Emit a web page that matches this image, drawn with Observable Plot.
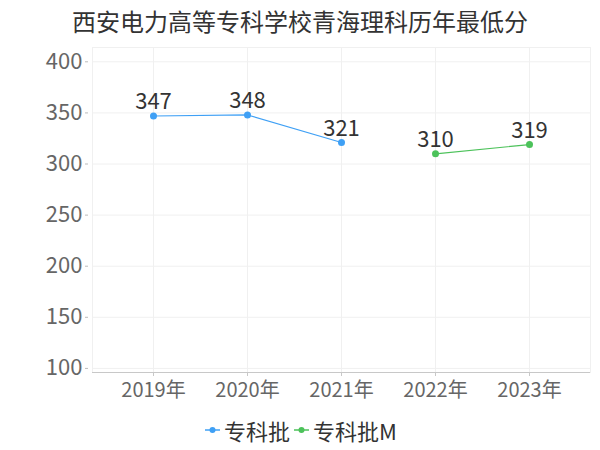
<!DOCTYPE html>
<html>
<head>
<meta charset="utf-8">
<script src="https://cdn.jsdelivr.net/npm/d3@7"></script>
<script src="https://cdn.jsdelivr.net/npm/@observablehq/plot@0.6"></script>
<style>
  body { margin: 0; background: #fff; font-family: "Noto Sans CJK SC", "Noto Sans", sans-serif; }
  #wrap { width: 600px; height: 450px; position: relative; }
  #title { height: 40px; line-height: 42px; font-size: 24px; color: #333; padding-left: 72px; white-space: nowrap; }
  #legend { height: 40px; display: flex; justify-content: center; align-items: center; font-size: 22px; color: #333; padding-left: 2px; }
  .item { display: flex; align-items: center; margin: 0 2px; }
  .item svg { margin-right: 4px; }
</style>
</head>
<body>
<div id="wrap">
  <div id="title">西安电力高等专科学校青海理科历年最低分</div>
  <div id="chart"></div>
  <div id="legend"></div>
</div>
<script>
const years = ["2019年", "2020年", "2021年", "2022年", "2023年"];
const batches = ["专科批", "专科批", "专科批", "专科批M", "专科批M"];
const scores = [347, 348, 321, 310, 319];
const seriesNames = ["专科批", "专科批M"];
const seriesColors = ["#3fa0f5", "#4cc25a"];
const yTicks = [100, 150, 200, 250, 300, 350, 400];

const data = years.map((y, i) => ({year: y, batch: batches[i], score: scores[i]}));

const chart = Plot.plot({
  width: 600,
  height: 370,
  marginTop: 7,
  marginBottom: 38,
  marginLeft: 88,
  marginRight: 10,
  style: {fontFamily: '"Noto Sans CJK SC", "Noto Sans", sans-serif', background: "#fff"},
  x: {type: "point", domain: years, padding: 0.635, insetLeft: 4},
  y: {domain: [96, 414]},
  color: {domain: seriesNames, range: seriesColors},
  marks: [
    Plot.frame({stroke: "#f0f0f0", insetLeft: 4}),
    Plot.ruleY(yTicks, {stroke: "#f0f0f0", insetLeft: 4}),
    Plot.ruleX(years, {x: d => d, stroke: "#f0f0f0"}),
    Plot.ruleY([96], {stroke: "#c8c8c8", insetLeft: 4}),
    Plot.axisY({ticks: yTicks, tickSize: 3, tickPadding: 3, fontSize: 22, color: "#666", stroke: "#bbb", line: true, label: null}),
    Plot.axisX({tickSize: 4, tickPadding: 6, fontSize: 20, color: "#666", stroke: "#c8c8c8", label: null}),
    Plot.line(data, {x: "year", y: "score", z: "batch", stroke: "batch", strokeWidth: 1.2}),
    Plot.dot(data, {x: "year", y: "score", fill: "batch", r: 3.5}),
    Plot.text(data, {x: "year", y: "score", text: d => String(d.score), dy: -14, fontSize: 22, fill: "#333"})
  ]
});
document.getElementById("chart").appendChild(chart);

const legend = document.getElementById("legend");
seriesNames.forEach((name, i) => {
  const item = document.createElement("div");
  item.className = "item";
  item.innerHTML = `<svg width="15" height="10"><line x1="0" y1="5" x2="15" y2="5" stroke="${seriesColors[i]}" stroke-width="1.5"/><circle cx="7.5" cy="5" r="3" fill="${seriesColors[i]}"/></svg><span>${name}</span>`;
  legend.appendChild(item);
});
</script>
</body>
</html>
